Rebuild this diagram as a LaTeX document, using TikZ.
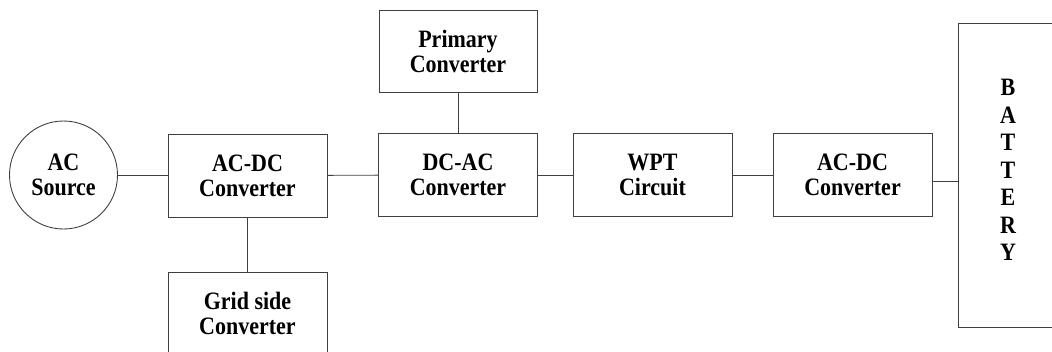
\documentclass[tikz,border=0pt]{standalone}
\usepackage{fontspec}
\setmainfont{Liberation Serif}
\newfontfamily\blkfont[FakeStretch=0.88]{Liberation Serif}
\begin{document}
\begin{tikzpicture}[x=1pt,y=-1pt,
  txt/.style={font=\blkfont\bfseries\fontsize{25}{25}\selectfont, align=center},
  blk/.style={txt, draw=black!75, line width=0.9pt, rectangle, minimum width=159pt, minimum height=83pt, inner sep=0pt},
  conn/.style={draw=black!75, line width=0.9pt}]
\useasboundingbox (0,0) rectangle (1052,351);
\clip (0,0) rectangle (1052,351);
\node[txt, circle, draw=black!75, line width=0.9pt, minimum size=108pt, inner sep=0pt] (src) at (63.5,175) {AC\\Source};
\node[blk] (acdc1) at (247.5,175.5) {AC-DC\\Converter};
\node[blk] (grid) at (247.5,313.5) {Grid side\\Converter};
\node[blk, minimum width=158pt, minimum height=82pt] (prim) at (458,51) {Primary\\Converter};
\node[blk] (dcac) at (458,175) {DC-AC\\Converter};
\node[blk] (wpt) at (652.5,175) {WPT\\Circuit};
\node[blk] (acdc2) at (852.5,175) {AC-DC\\Converter};
\node[draw=black!75, line width=0.9pt, minimum width=110pt, minimum height=304pt, inner sep=0pt] (bat) at (1013,175) {};
\node[font=\blkfont\bfseries\fontsize{25}{27.5}\selectfont, align=center] (battxt) at (1008,170) {B\\A\\T\\T\\E\\R\\Y};
\draw[conn] (src.east) -- (acdc1.west |- src.east);
\draw[conn] (acdc1) -- (dcac);
\draw[conn] (dcac) -- (wpt);
\draw[conn] (wpt) -- (acdc2);
\draw[conn] (acdc1.south) -- (grid.north);
\draw[conn] (prim.south) -- (dcac.north);
\draw[conn] ([yshift=-6pt]acdc2.east) -- ([yshift=-6pt]acdc2.east -| bat.west);
\end{tikzpicture}
\end{document}
